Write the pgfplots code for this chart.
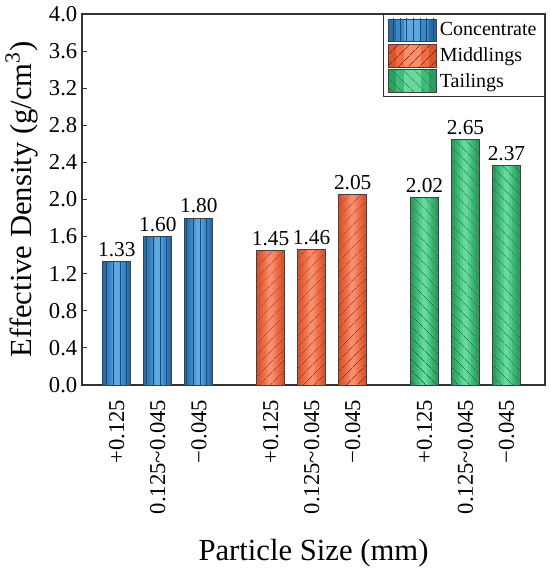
\documentclass[border=0pt]{standalone}
\usepackage{pgfplots}
\pgfplotsset{compat=1.18}
\usepackage{fontspec}
\setmainfont{Liberation Serif}
\usetikzlibrary{patterns.meta}
\definecolor{bD}{HTML}{2C6CA5}
\definecolor{bM}{HTML}{3A88C8}
\definecolor{bL}{HTML}{5EA8E2}
\definecolor{bP}{HTML}{1C4874}
\definecolor{oD}{HTML}{D9552F}
\definecolor{oM}{HTML}{F26B43}
\definecolor{oL}{HTML}{FA8E6B}
\definecolor{oP}{HTML}{7E2C14}
\definecolor{gD}{HTML}{2C9E5F}
\definecolor{gM}{HTML}{3DBE78}
\definecolor{gL}{HTML}{66DA9B}
\definecolor{gP}{HTML}{176035}
\pgfplotstableread{
x y
0 1.33
1 1.60
2 1.80
}\conc
\pgfplotstableread{
x y
3.75 1.45
4.75 1.46
5.75 2.05
}\midd
\pgfplotstableread{
x y
7.5 2.02
8.5 2.65
9.5 2.37
}\tail
\begin{document}
\begin{tikzpicture}
\begin{axis}[
  scale only axis,
  width=347.25pt, height=278.25pt,
  xmin=-0.85, xmax=10.44,
  ymin=0, ymax=4.0,
  ytick={0,0.4,...,4.0},
  ytick pos=left,
  tick align=inside,
  major tick length=4pt,
  xtick={0,1,2,3.75,4.75,5.75,7.5,8.5,9.5},
  xticklabels={+0.125,0.125\textasciitilde0.045,−0.045,+0.125,0.125\textasciitilde0.045,−0.045,+0.125,0.125\textasciitilde0.045,−0.045},
  xtick style={draw=none},
  xticklabel style={rotate=90, anchor=east, inner sep=2pt, xshift=-9pt},
  yticklabel style={/pgf/number format/.cd, fixed, fixed zerofill, precision=1, assume math mode=true},
  tick label style={font=\fontsize{17}{20}\selectfont},
  axis line style={draw=black!80, line width=0.8pt},
  every tick/.style={black!80, line width=0.8pt},
  ylabel={Effective Density (g/cm\textsuperscript{3})},
  xlabel={Particle Size (mm)},
  label style={font=\fontsize{23}{28}\selectfont},
  ylabel style={at={(axis description cs:-0.13,0.5)}, anchor=center},
  xlabel style={at={(axis description cs:0.5,0)}, anchor=center, yshift=-126pt},
  legend style={at={(1,1)}, anchor=north east, draw=black!80, line width=0.8pt,
    font=\fontsize{15}{18}\selectfont, row sep=1.5pt, inner xsep=4pt, inner ysep=3pt},
  legend cell align=left,
  every node near coord/.append style={font=\fontsize{16}{19}\selectfont, black,
    /pgf/number format/.cd, fixed, fixed zerofill, precision=2, assume math mode=true},
]
% Concentrate
\addplot[ybar, bar width=21pt, fill=bD, draw=none, forget plot] table {\conc};
\addplot[ybar, bar width=16pt, fill=bD!50!bM, draw=none, forget plot] table {\conc};
\addplot[ybar, bar width=12pt, fill=bM, draw=none, forget plot] table {\conc};
\addplot[ybar, bar width=8pt, fill=bM!50!bL, draw=none, forget plot] table {\conc};
\addplot[ybar, bar width=4pt, fill=bL, draw=none, forget plot] table {\conc};
\addplot[ybar, bar width=21pt, draw=black!75, line width=0.6pt,
  pattern={Lines[angle=90,distance=5pt,line width=0.55pt]}, pattern color=bP, nodes near coords,
  legend image code/.code={
    \fill[bD] (0pt,-8.5pt) rectangle (36pt,8.5pt);
    \fill[bM] (6pt,-8.5pt) rectangle (30pt,8.5pt);
    \fill[bL] (12pt,-8.5pt) rectangle (24pt,8.5pt);
    \draw[black!75, line width=0.6pt, pattern={Lines[angle=90,distance=5pt,line width=0.55pt]}, pattern color=bP] (0pt,-8.5pt) rectangle (36pt,8.5pt);}]
  table {\conc};
\addlegendentry{Concentrate}
% Middlings
\addplot[ybar, bar width=21pt, fill=oD, draw=none, forget plot] table {\midd};
\addplot[ybar, bar width=16pt, fill=oD!50!oM, draw=none, forget plot] table {\midd};
\addplot[ybar, bar width=12pt, fill=oM, draw=none, forget plot] table {\midd};
\addplot[ybar, bar width=8pt, fill=oM!50!oL, draw=none, forget plot] table {\midd};
\addplot[ybar, bar width=4pt, fill=oL, draw=none, forget plot] table {\midd};
\addplot[ybar, bar width=21pt, draw=black!75, line width=0.6pt,
  pattern={Lines[angle=45,distance=6.5pt,line width=0.55pt]}, pattern color=oP, nodes near coords,
  legend image code/.code={
    \fill[oD] (0pt,-8.5pt) rectangle (36pt,8.5pt);
    \fill[oM] (6pt,-8.5pt) rectangle (30pt,8.5pt);
    \fill[oL] (12pt,-8.5pt) rectangle (24pt,8.5pt);
    \draw[black!75, line width=0.6pt, pattern={Lines[angle=45,distance=6.5pt,line width=0.55pt]}, pattern color=oP] (0pt,-8.5pt) rectangle (36pt,8.5pt);}]
  table {\midd};
\addlegendentry{Middlings}
% Tailings
\addplot[ybar, bar width=21pt, fill=gD, draw=none, forget plot] table {\tail};
\addplot[ybar, bar width=16pt, fill=gD!50!gM, draw=none, forget plot] table {\tail};
\addplot[ybar, bar width=12pt, fill=gM, draw=none, forget plot] table {\tail};
\addplot[ybar, bar width=8pt, fill=gM!50!gL, draw=none, forget plot] table {\tail};
\addplot[ybar, bar width=4pt, fill=gL, draw=none, forget plot] table {\tail};
\addplot[ybar, bar width=21pt, draw=black!75, line width=0.6pt,
  pattern={Lines[angle=-45,distance=6.5pt,line width=0.55pt]}, pattern color=gP, nodes near coords,
  legend image code/.code={
    \fill[gD] (0pt,-8.5pt) rectangle (36pt,8.5pt);
    \fill[gM] (6pt,-8.5pt) rectangle (30pt,8.5pt);
    \fill[gL] (12pt,-8.5pt) rectangle (24pt,8.5pt);
    \draw[black!75, line width=0.6pt, pattern={Lines[angle=-45,distance=6.5pt,line width=0.55pt]}, pattern color=gP] (0pt,-8.5pt) rectangle (36pt,8.5pt);}]
  table {\tail};
\addlegendentry{Tailings}
\end{axis}
\pgfresetboundingbox
\path (-61.5pt,-147pt) rectangle (351pt,288.75pt);
\end{tikzpicture}
\end{document}
